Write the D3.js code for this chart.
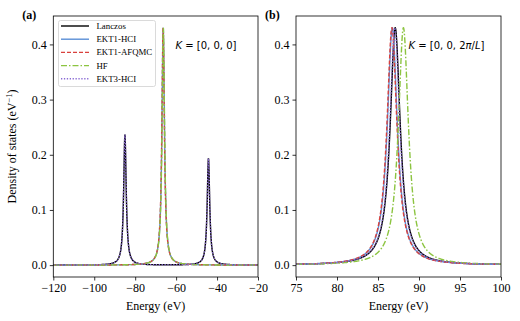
<!DOCTYPE html>
<html>
<head>
<meta charset="utf-8">
<script src="https://cdn.jsdelivr.net/npm/d3@7"></script>
<style>
body{margin:0;background:#fff;}
</style>
</head>
<body>
<div id="chart"></div>
<script>
// series names and styles order
var names = ["Lanczos", "EKT1-HCI", "EKT1-AFQMC", "HF", "EKT3-HCI"];

// peaks: [energy eV, weight], broadened by eta
var eta = 0.74;
var peaksA = {
    "Lanczos":    [[-85.0, 0.55], [-44.2, 0.45]],
    "EKT1-HCI":   [[-66.3, 1.0]],
    "EKT1-AFQMC": [[-66.35, 1.0]],
    "HF":         [[-66.25, 1.0]],
    "EKT3-HCI":   [[-85.0, 0.55], [-44.2, 0.45]]
};
var peaksB = {
    "Lanczos":    [[87.1, 1.0]],
    "EKT1-HCI":   [[86.75, 1.0]],
    "EKT1-AFQMC": [[86.7, 1.0]],
    "HF":         [[88.1, 1.0]],
    "EKT3-HCI":   [[87.05, 1.0]]
};

var xTicksA = [-120, -100, -80, -60, -40, -20];
var xTicksB = [75, 80, 85, 90, 95, 100];
var yTicks = [0.0, 0.1, 0.2, 0.3, 0.4];

var colors = {"Lanczos":"#000000", "EKT1-HCI":"#5b8fd6", "EKT1-AFQMC":"#d9413d", "HF":"#8cc440", "EKT3-HCI":"#8a6bd4"};
var dashes = {"Lanczos":null, "EKT1-HCI":null, "EKT1-AFQMC":"4,2", "HF":"6,2,1.5,2", "EKT3-HCI":"1.3,1.6"};

var serif = "'Liberation Serif', 'DejaVu Serif', serif";
var width = 520, height = 321;
var svg = d3.select("#chart").append("svg")
    .attr("width", width)
    .attr("height", height)
    .style("font-family", serif);

var y = d3.scaleLinear().domain([-0.0215, 0.4515]).range([277, 16]);

function dos(peaks, e){ //lorentzian broadened spectral weight
    var s = 0;
    for(var i = 0; i < peaks.length; i++){
        var d = e - peaks[i][0];
        s += peaks[i][1] * eta / Math.PI / (d*d + eta*eta);
    }
    return s;
}

function panel(x0, x1, dom, ticks, peaks, tag, klabel){
    var x = d3.scaleLinear().domain(dom).range([x0, x1]);
    var g = svg.append("g");

    var clip = "clip" + tag.replace(/\W/g, "");
    g.append("clipPath").attr("id", clip).append("rect")
        .attr("x", x0).attr("y", 16).attr("width", x1 - x0).attr("height", 261);

    var step = (dom[1] - dom[0]) / 2000;
    var line = d3.line()
        .x(function(d){ return x(d[0]); })
        .y(function(d){ return y(d[1]); });

    names.forEach(function(n){
        var pts = [];
        for(var e = dom[0]; e <= dom[1] + 1e-9; e += step){
            pts.push([e, dos(peaks[n], e)]);
        }
        g.append("path")
            .attr("clip-path", "url(#" + clip + ")")
            .attr("d", line(pts))
            .attr("fill", "none")
            .attr("stroke", colors[n])
            .attr("stroke-width", 1.4)
            .attr("stroke-dasharray", dashes[n]);
    });

    var fmtX = function(d){ return String(d).replace("-", "\u2212"); };
    var xAxis = d3.axisBottom(x).tickValues(ticks).tickSize(3.5).tickPadding(3).tickFormat(fmtX);
    var yAxis = d3.axisLeft(y).tickValues(yTicks).tickSize(3.5).tickPadding(3).tickFormat(d3.format(".1f"));

    var gx = g.append("g").attr("transform", "translate(0,277)").call(xAxis);
    var gy = g.append("g").attr("transform", "translate(" + x0 + ",0)").call(yAxis);
    [gx, gy].forEach(function(a){
        a.attr("font-family", null).attr("font-size", null);
        a.select(".domain").remove();
        a.selectAll("text").style("font-family", serif).style("font-size", "12px").attr("fill", "#000");
        a.selectAll("line").attr("stroke", "#000").attr("stroke-width", 0.8);
    });

    g.append("rect")
        .attr("x", x0).attr("y", 16).attr("width", x1 - x0).attr("height", 261)
        .attr("fill", "none").attr("stroke", "#000").attr("stroke-width", 0.8);

    g.append("text")
        .attr("x", (x0 + x1) / 2).attr("y", 310)
        .attr("text-anchor", "middle")
        .style("font-size", "12px")
        .text("Energy (eV)");

    g.append("text")
        .attr("x", x0 - 31).attr("y", 19)
        .style("font-weight", "bold")
        .style("font-size", "12px")
        .text(tag);

    // K label, mathtext style
    var kt = g.append("text")
        .attr("x", klabel.x).attr("y", 49)
        .style("font-family", "'DejaVu Sans'")
        .style("font-size", "10px");
    klabel.parts.forEach(function(p){
        kt.append("tspan").style("font-style", p[1] ? "italic" : "normal").text(p[0]);
    });
}

panel(53.3, 258, [-120, -20], xTicksA, peaksA, "(a)",
    {x: 175.5, parts: [["K", 1], [" = [0, 0, 0]", 0]]});
panel(296, 501, [75, 100], xTicksB, peaksB, "(b)",
    {x: 408.5, parts: [["K", 1], [" = [0, 0, 2", 0], ["\u03c0", 1], ["/", 0], ["L", 1], ["]", 0]]});

// y label
var yl = svg.append("text")
    .attr("transform", "translate(16,146.5) rotate(-90)")
    .attr("text-anchor", "middle")
    .style("font-size", "12px");
yl.append("tspan").text("Density of states (eV");
yl.append("tspan").style("font-size", "8.5px").attr("dy", -4.5).text("\u22121");
yl.append("tspan").attr("dy", 4.5).text(")");

// legend
var leg = svg.append("g");
leg.append("rect")
    .attr("x", 58.5).attr("y", 20.5).attr("width", 97).attr("height", 66)
    .attr("rx", 2)
    .attr("fill", "#fff").attr("stroke", "#d0d0d0").attr("stroke-width", 0.8);
names.forEach(function(n, i){
    var yy = 26 + i * 13.2;
    leg.append("line")
        .attr("x1", 61).attr("x2", 89).attr("y1", yy).attr("y2", yy)
        .attr("stroke", colors[n]).attr("stroke-width", 1.4)
        .attr("stroke-dasharray", dashes[n]);
    leg.append("text")
        .attr("x", 96.5).attr("y", yy + 3)
        .style("font-size", "8.8px")
        .text(n);
});
</script>
</body>
</html>
